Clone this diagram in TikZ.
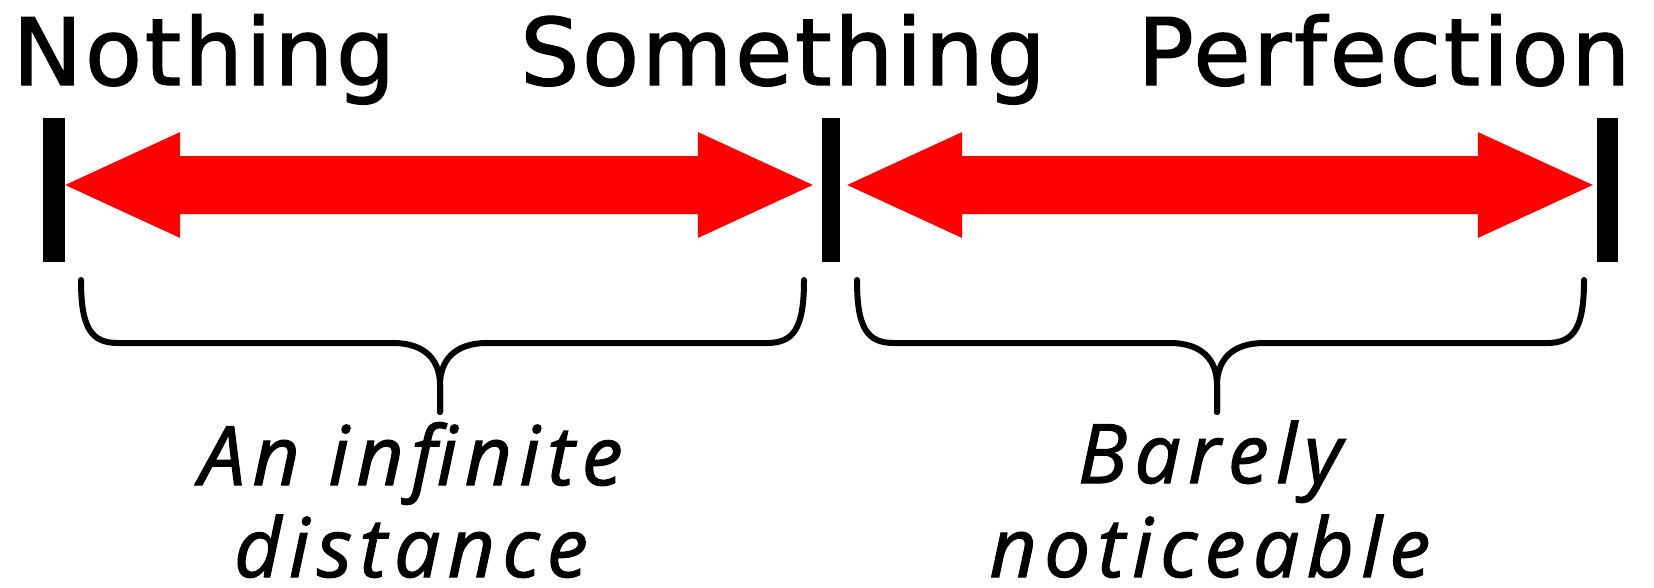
\documentclass[tikz,border=0pt]{standalone}
\usepackage{fontspec}
\usetikzlibrary{calc}
\newfontfamily\topfont[LetterSpace=3,FakeBold=1.5]{DejaVu Sans}
\newfontfamily\botfont[LetterSpace=9,FakeBold=1.5]{Open Sans}
\definecolor{arrowred}{RGB}{255,0,0}
\tikzset{
  bar/.style={fill=black, draw=none, inner sep=0pt, minimum width=21pt, minimum height=144pt},
  toplabel/.style={anchor=base, inner sep=0pt, font=\topfont\fontsize{93pt}{100pt}\selectfont},
  botlabel/.style={anchor=base, inner sep=0pt, text depth=0pt, font=\botfont\itshape\fontsize{82pt}{92pt}\selectfont},
  bracestyle/.style={draw=black, line width=6pt, line cap=round, line join=round},
  arrowfill/.style={fill=arrowred, draw=none}
}
% double arrow between two named coordinates (horizontal)
\newcommand{\mydblarrow}[2]{%
  \fill[arrowfill] (#1) -- ($(#1)+(115,-53)$) -- ($(#1)+(115,-29)$)
    -- ($(#2)+(-115,-29)$) -- ($(#2)+(-115,-53)$) -- (#2)
    -- ($(#2)+(-115,53)$) -- ($(#2)+(-115,29)$)
    -- ($(#1)+(115,29)$) -- ($(#1)+(115,53)$) -- cycle;}
% horizontal brace: left x, tip x, right x
\newcommand{\mybrace}[3]{%
  \coordinate (bl#2) at (#1,280);
  \coordinate (br#2) at (#3,280);
  \coordinate (bt#2) at (#2,412);
  \draw[bracestyle] (bl#2) .. controls (#1,328) and ({#1+10},343) .. ({#1+37},343)
    -- ({#2-47},343) .. controls ({#2-15},343) and (#2,360) .. (#2,385) -- (bt#2);
  \draw[bracestyle] (bt#2) -- (#2,385) .. controls (#2,360) and ({#2+15},343) .. ({#2+47},343)
    -- ({#3-37},343) .. controls ({#3-10},343) and (#3,328) .. (br#2);}
\begin{document}
\begin{tikzpicture}[x=1pt, y=-1pt]
\useasboundingbox (0,0) rectangle (1654,587);
% labels on top
\node[toplabel] (t1) at (204,85) {Nothing};
\node[toplabel] (t2) at (783,85) {Something};
\node[toplabel] (t3) at (1384,85) {Perfection};
% bars
\node[bar, minimum width=22pt] (b1) at (54,190) {};
\node[bar, minimum width=18pt] (b2) at (831,190) {};
\node[bar] (b3) at (1607.5,190) {};
% arrow end points
\coordinate (a1) at ([yshift=5pt]b1.east);
\coordinate (a2) at ([yshift=5pt,xshift=-9pt]b2.west);
\coordinate (a3) at ([yshift=5pt,xshift=7pt]b2.east);
\coordinate (a4) at ([yshift=5pt,xshift=-4pt]b3.west);
\mydblarrow{a1}{a2}
\mydblarrow{a3}{a4}
% braces
\mybrace{81}{440}{804}
\mybrace{857}{1217}{1584}
% bottom labels
\node[botlabel] (l1a) at (411,485) {An infinite};
\node[botlabel] (l1b) at (411,577) {distance};
\node[botlabel] (l2a) at (1210,483) {Barely};
\node[botlabel] (l2b) at (1210,577) {noticeable};
\end{tikzpicture}
\end{document}
